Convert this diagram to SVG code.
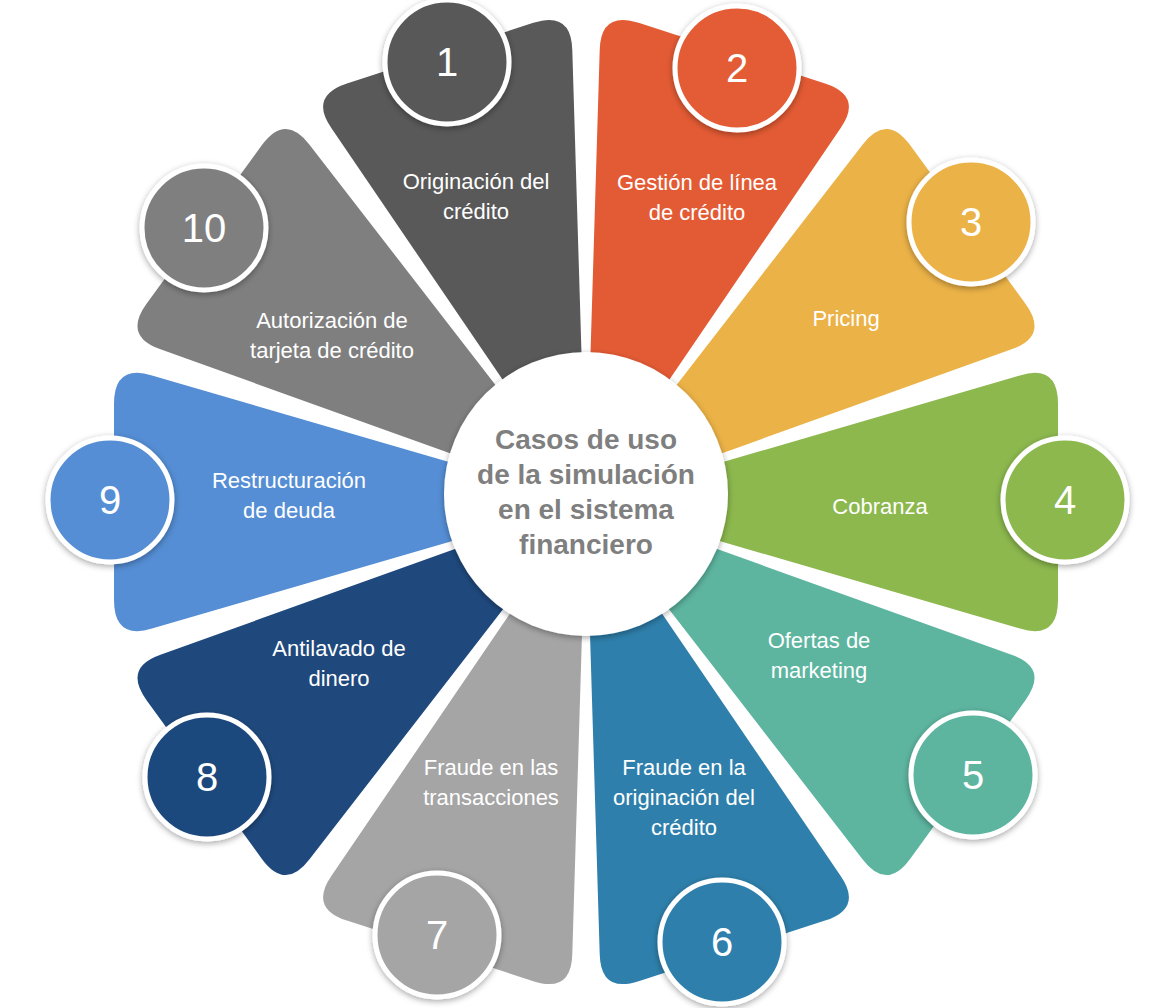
<svg xmlns="http://www.w3.org/2000/svg" width="1161" height="1008" viewBox="0 0 1161 1008">
<defs>
<path id="petal" d="M0,0 L434,-126.6 Q472,-138 472,-98 L472,98 Q472,138 434,126.6 Z"/>
<filter id="sh" x="-20%" y="-20%" width="140%" height="140%"><feDropShadow dx="0" dy="2" stdDeviation="3" flood-color="#000" flood-opacity="0.35"/></filter>
</defs>
<style>
.lbl{font-family:"Liberation Sans",Arial,sans-serif;font-size:22px;fill:#fff;text-anchor:middle}
.num{font-family:"Liberation Sans",Arial,sans-serif;font-size:40px;fill:#fff;text-anchor:middle}
.nc{stroke:#fff;stroke-width:5}
.ctr{font-family:"Liberation Sans",Arial,sans-serif;font-size:28px;font-weight:bold;fill:#7f7f7f;text-anchor:middle}
</style>
<rect width="1161" height="1008" fill="#fff"/>
<g id="petals">
<g id="n1"><use href="#petal" fill="#595959" transform="translate(586,502) rotate(-108)"/><circle class="nc" cx="447" cy="62" r="62" fill="#595959" filter="url(#sh)"/><text class="num" x="447" y="76">1</text><text class="lbl" x="476" y="189">Originación del</text><text class="lbl" x="476" y="219">crédito</text></g>
<g id="n2"><use href="#petal" fill="#E35B34" transform="translate(586,502) rotate(-72)"/><circle class="nc" cx="737" cy="68" r="62" fill="#E35B34" filter="url(#sh)"/><text class="num" x="737" y="82">2</text><text class="lbl" x="697" y="190">Gestión de línea</text><text class="lbl" x="697" y="220">de crédito</text></g>
<g id="n3"><use href="#petal" fill="#EBB247" transform="translate(586,502) rotate(-36)"/><circle class="nc" cx="971" cy="222" r="62" fill="#EBB247" filter="url(#sh)"/><text class="num" x="971" y="236">3</text><text class="lbl" x="846" y="326">Pricing</text></g>
<g id="n4"><use href="#petal" fill="#8CB84E" transform="translate(586,502) rotate(0)"/><circle class="nc" cx="1065" cy="500" r="62" fill="#8CB84E" filter="url(#sh)"/><text class="num" x="1065" y="514">4</text><text class="lbl" x="880" y="514">Cobranza</text></g>
<g id="n5"><use href="#petal" fill="#5DB5A0" transform="translate(586,502) rotate(36)"/><circle class="nc" cx="973" cy="775" r="62" fill="#5DB5A0" filter="url(#sh)"/><text class="num" x="973" y="789">5</text><text class="lbl" x="819" y="648">Ofertas de</text><text class="lbl" x="819" y="678">marketing</text></g>
<g id="n6"><use href="#petal" fill="#2E7FAB" transform="translate(586,502) rotate(72)"/><circle class="nc" cx="722" cy="942" r="62" fill="#2E7FAB" filter="url(#sh)"/><text class="num" x="722" y="956">6</text><text class="lbl" x="684" y="775">Fraude en la</text><text class="lbl" x="684" y="805">originación del</text><text class="lbl" x="684" y="835">crédito</text></g>
<g id="n7"><use href="#petal" fill="#A5A5A5" transform="translate(586,502) rotate(108)"/><circle class="nc" cx="437" cy="935" r="62" fill="#A5A5A5" filter="url(#sh)"/><text class="num" x="437" y="949">7</text><text class="lbl" x="491" y="775">Fraude en las</text><text class="lbl" x="491" y="805">transacciones</text></g>
<g id="n8"><use href="#petal" fill="#1F497D" transform="translate(586,502) rotate(144)"/><circle class="nc" cx="207" cy="777" r="62" fill="#1F497D" filter="url(#sh)"/><text class="num" x="207" y="791">8</text><text class="lbl" x="339" y="656">Antilavado de</text><text class="lbl" x="339" y="686">dinero</text></g>
<g id="n9"><use href="#petal" fill="#558ED5" transform="translate(586,502) rotate(180)"/><circle class="nc" cx="110" cy="500" r="62" fill="#558ED5" filter="url(#sh)"/><text class="num" x="110" y="514">9</text><text class="lbl" x="289" y="488">Restructuración</text><text class="lbl" x="289" y="518">de deuda</text></g>
<g id="n10"><use href="#petal" fill="#7F7F7F" transform="translate(586,502) rotate(216)"/><circle class="nc" cx="204" cy="228" r="62" fill="#7F7F7F" filter="url(#sh)"/><text class="num" x="204" y="242">10</text><text class="lbl" x="332" y="328">Autorización de</text><text class="lbl" x="332" y="358">tarjeta de crédito</text></g>
</g>
<g id="center"><circle cx="586" cy="494" r="142" fill="#fff" filter="url(#sh)"/><text class="ctr" x="586" y="449">Casos de uso</text><text class="ctr" x="586" y="484">de la simulación</text><text class="ctr" x="586" y="519">en el sistema</text><text class="ctr" x="586" y="554">financiero</text></g>
</svg>
